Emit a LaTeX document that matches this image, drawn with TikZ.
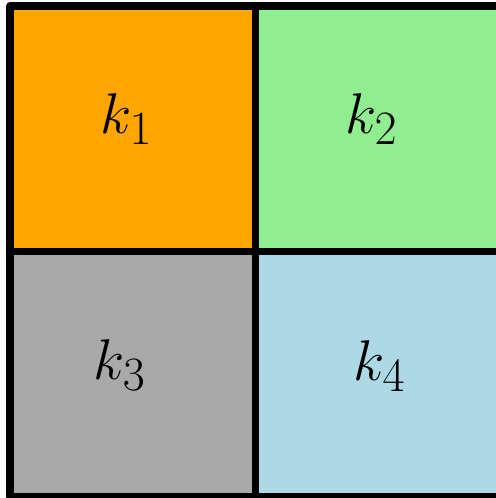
\documentclass[tikz,border=0pt]{standalone}
\usepackage{tikz}
\usetikzlibrary{positioning}
\definecolor{cellorange}{RGB}{255,165,0}
\definecolor{cellgreen}{RGB}{144,238,144}
\definecolor{cellgray}{RGB}{169,169,169}
\definecolor{cellblue}{RGB}{173,216,230}

\begin{document}
\begin{tikzpicture}[
  cell/.style={
    draw, line width=3.5pt, line join=round,
    minimum size=4cm, inner sep=0pt, outer sep=0pt,
    anchor=north west
  },
  lbl/.style={font=\Huge, inner sep=0pt, scale=1.07, transform shape}
]
% --- page frame (grid is cut on the right and bottom) ---
\useasboundingbox (-0.163,0.098) rectangle (7.918,-8.016);

% --- cells ---
\node[cell, fill=cellorange] (k1) at (0,0) {};
\node[cell, fill=cellgreen, right=0pt of k1.north east, anchor=north west] (k2) {};
\node[cell, fill=cellgray, below=0pt of k1.south west, anchor=north west] (k3) {};
\node[cell, fill=cellblue, right=0pt of k3.north east, anchor=north west] (k4) {};

% --- labels ---
\foreach \dx/\dy [count=\i] in {-0.10/0.16, -0.11/0.16, -0.21/0.15, 0.02/0.13} {
  \node[lbl] (t\i) at ([xshift=\dx cm, yshift=\dy cm]k\i.center) {$k_\i$};
}

\end{tikzpicture}
\end{document}
